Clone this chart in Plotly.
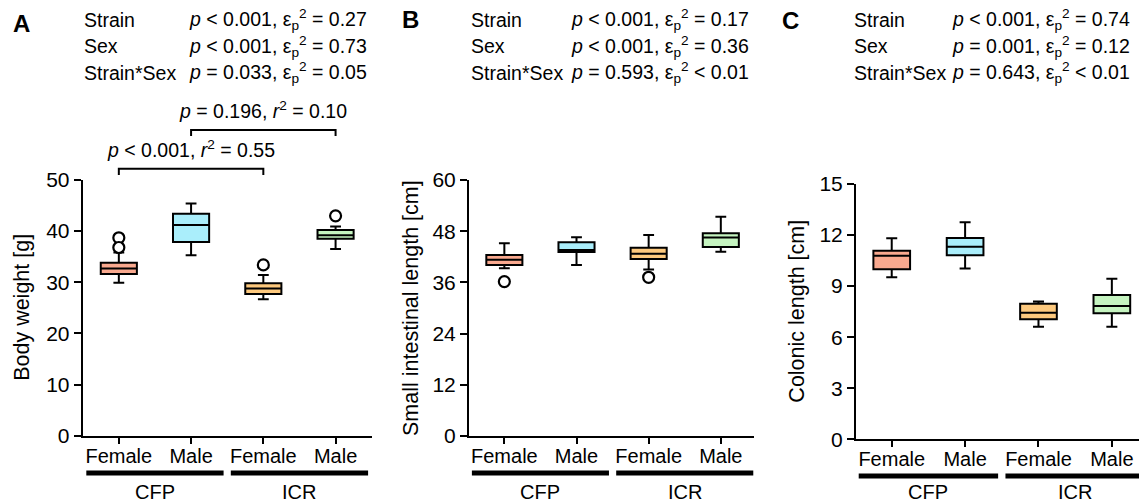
import plotly.graph_objects as go

W, H = 1139, 503
FONT = "Liberation Sans, Arial, Helvetica, sans-serif"

# ---------------- data ----------------
sexes = ["Female", "Male", "Female", "Male"]
strains = ["CFP", "ICR"]
box_colors = ["#F9A98F", "#AAEEFB", "#FDC97E", "#C5F4C0"]

# Panel A: body weight [g]
bw_q1 = [31.6, 37.9, 27.7, 38.5]
bw_med = [32.7, 41.2, 28.8, 39.2]
bw_q3 = [33.8, 43.4, 29.8, 40.2]
bw_lo = [29.9, 35.3, 26.7, 36.5]
bw_hi = [35.8, 45.4, 31.4, 40.9]
bw_out_x = [0, 0, 2, 3]
bw_out_y = [38.7, 36.8, 33.4, 43.0]

# Panel B: small intestinal length [cm]
si_q1 = [40.1, 43.1, 41.5, 44.3]
si_med = [41.3, 43.6, 42.7, 46.5]
si_q3 = [42.4, 45.4, 44.1, 47.5]
si_lo = [39.3, 40.1, 39.0, 43.2]
si_hi = [45.2, 46.6, 47.1, 51.4]
si_out_x = [0, 2]
si_out_y = [36.2, 37.2]

# Panel C: colonic length [cm]
cl_q1 = [9.99, 10.81, 7.05, 7.40]
cl_med = [10.79, 11.32, 7.44, 7.83]
cl_q3 = [11.08, 11.83, 7.97, 8.48]
cl_lo = [9.52, 10.03, 6.62, 6.62]
cl_hi = [11.81, 12.75, 8.10, 9.44]
cl_out_x = []
cl_out_y = []

# ANOVA results
effects = ["Strain", "Sex", "Strain*Sex"]
stats_A = ["<i>p</i> &lt; 0.001, ε<sub>p</sub><sup>2</sup> = 0.27",
           "<i>p</i> &lt; 0.001, ε<sub>p</sub><sup>2</sup> = 0.73",
           "<i>p</i> = 0.033, ε<sub>p</sub><sup>2</sup> = 0.05"]
stats_B = ["<i>p</i> &lt; 0.001, ε<sub>p</sub><sup>2</sup> = 0.17",
           "<i>p</i> &lt; 0.001, ε<sub>p</sub><sup>2</sup> = 0.36",
           "<i>p</i> = 0.593, ε<sub>p</sub><sup>2</sup> &lt; 0.01"]
stats_C = ["<i>p</i> &lt; 0.001, ε<sub>p</sub><sup>2</sup> = 0.74",
           "<i>p</i> = 0.001, ε<sub>p</sub><sup>2</sup> = 0.12",
           "<i>p</i> = 0.643, ε<sub>p</sub><sup>2</sup> &lt; 0.01"]

# Pairwise comparisons in panel A
bracket_pairs = [(0, 2), (1, 3)]
bracket_heights = [52.2, 59.8]
bracket_texts = ["<i>p</i> &lt; 0.001, <i>r</i><sup>2</sup> = 0.55",
                 "<i>p</i> = 0.196, <i>r</i><sup>2</sup> = 0.10"]

# ---------------- layout helpers ----------------
def px_x(px):
    return px / W

def px_y(py):
    return 1 - py / H

panels = [
    dict(letter="A", ax="", box=(82.7, 371.7, 180, 435.7), xr=(-0.5, 3.5), yr=(0, 50), dtick=10,
         title="Body weight [g]", title_x=22,
         q1=bw_q1, med=bw_med, q3=bw_q3, lo=bw_lo, hi=bw_hi, ox=bw_out_x, oy=bw_out_y,
         stats=stats_A, letter_xy=(21, 24), col1=81.7, col2=186.7, bar_y=473, grp_y=491.5),
    dict(letter="B", ax="2", box=(469, 754, 180, 436), xr=(-0.49, 3.46), yr=(0, 60), dtick=12,
         title="Small intestinal length [cm]", title_x=411,
         q1=si_q1, med=si_med, q3=si_q3, lo=si_lo, hi=si_hi, ox=si_out_x, oy=si_out_y,
         stats=stats_B, letter_xy=(410, 20), col1=469, col2=569, bar_y=473, grp_y=491.5),
    dict(letter="C", ax="3", box=(856, 1139, 184, 439.3), xr=(-0.487, 3.37), yr=(0, 15), dtick=3,
         title="Colonic length [cm]", title_x=797,
         q1=cl_q1, med=cl_med, q3=cl_q3, lo=cl_lo, hi=cl_hi, ox=cl_out_x, oy=cl_out_y,
         stats=stats_C, letter_xy=(790, 21), col1=851.7, col2=950, bar_y=476, grp_y=491.5),
]

row_y = [20, 46, 73]

fig = go.Figure()
annotations = []
shapes = []
layout_axes = {}

for p in panels:
    xa = "x" + p["ax"]
    ya = "y" + p["ax"]
    x0, x1, y0, y1 = p["box"]
    ydom = [px_y(y1), px_y(y0)]
    layout_axes["xaxis" + p["ax"]] = dict(
        domain=[px_x(x0), px_x(x1)], range=list(p["xr"]), anchor=ya, automargin=False,
        tickmode="array", tickvals=list(range(len(sexes))), ticktext=sexes,
        ticks="outside", ticklen=6, tickwidth=2, tickcolor="black", ticklabelstandoff=-5,
        showline=True, linewidth=2, linecolor="black", showgrid=False, zeroline=False,
        tickfont=dict(family=FONT, size=20, color="black"), fixedrange=True)
    layout_axes["yaxis" + p["ax"]] = dict(
        domain=ydom, range=list(p["yr"]), anchor=xa, dtick=p["dtick"], tick0=0, automargin=False,
        ticks="outside", ticklen=7, tickwidth=2, tickcolor="black",
        showline=True, linewidth=2, linecolor="black", showgrid=False, zeroline=False,
        tickfont=dict(family=FONT, size=21, color="black"), fixedrange=True)

    for i in range(len(sexes)):
        fig.add_trace(go.Box(
            x=[i], q1=[p["q1"][i]], median=[p["med"][i]], q3=[p["q3"][i]],
            lowerfence=[p["lo"][i]], upperfence=[p["hi"][i]],
            fillcolor=box_colors[i], line=dict(color="black", width=2),
            width=0.5, whiskerwidth=0.3, boxpoints=False,
            xaxis=xa, yaxis=ya, showlegend=False, hoverinfo="skip"))
    if p["ox"]:
        fig.add_trace(go.Scatter(
            x=p["ox"], y=p["oy"], mode="markers", cliponaxis=False,
            marker=dict(symbol="circle", size=11, color="white",
                        line=dict(color="black", width=2.2)),
            xaxis=xa, yaxis=ya, showlegend=False, hoverinfo="skip"))

    annotations.append(dict(text=p["title"], textangle=-90, xref="paper", yref="paper",
                            x=px_x(p["title_x"]), y=(ydom[0] + ydom[1]) / 2,
                            xanchor="center", yanchor="middle", showarrow=False,
                            font=dict(family=FONT, size=21.5, color="black")))
    annotations.append(dict(text="<b>%s</b>" % p["letter"], xref="paper", yref="paper",
                            x=px_x(p["letter_xy"][0]), y=px_y(p["letter_xy"][1]),
                            xanchor="center", yanchor="middle", showarrow=False,
                            font=dict(family=FONT, size=24, color="black")))
    for k, eff in enumerate(effects):
        annotations.append(dict(text=eff, xref="paper", yref="paper",
                                x=px_x(p["col1"]), y=px_y(row_y[k]),
                                xanchor="left", yanchor="middle", showarrow=False,
                                font=dict(family=FONT, size=19.5, color="black")))
        annotations.append(dict(text=p["stats"][k], xref="paper", yref="paper",
                                x=px_x(p["col2"]), y=px_y(row_y[k]),
                                xanchor="left", yanchor="middle", showarrow=False,
                                font=dict(family=FONT, size=19.5, color="black")))
    for s, name in enumerate(strains):
        c = 2 * s + 0.5
        shapes.append(dict(type="line", xref=xa, yref="paper",
                           x0=c - 0.95, x1=c + 0.95,
                           y0=px_y(p["bar_y"]), y1=px_y(p["bar_y"]),
                           line=dict(color="black", width=5)))
        annotations.append(dict(text=name, xref=xa, yref="paper", x=c, y=px_y(p["grp_y"]),
                                xanchor="center", yanchor="middle", showarrow=False,
                                font=dict(family=FONT, size=20, color="black")))

pA = panels[0]
yd0, yd1 = px_y(pA["box"][3]), px_y(pA["box"][2])
def a_to_paper(v):
    return yd0 + (v - pA["yr"][0]) / (pA["yr"][1] - pA["yr"][0]) * (yd1 - yd0)

for (a, b), h, txt in zip(bracket_pairs, bracket_heights, bracket_texts):
    top = a_to_paper(h)
    bot = a_to_paper(h - 1.2)
    shapes.append(dict(type="path", xref="x", yref="paper",
                       path="M %g,%g L %g,%g L %g,%g L %g,%g" % (a, bot, a, top, b, top, b, bot),
                       line=dict(color="black", width=2)))
    annotations.append(dict(text=txt, xref="x", yref="paper", x=(a + b) / 2,
                            y=a_to_paper(h + 3.9), xanchor="center", yanchor="middle",
                            showarrow=False, font=dict(family=FONT, size=19.5, color="black")))

fig.update_layout(
    width=W, height=H, margin=dict(l=0, r=0, t=0, b=0, autoexpand=False),
    paper_bgcolor="white", plot_bgcolor="white",
    font=dict(family=FONT, color="black"),
    boxmode="overlay", showlegend=False,
    annotations=annotations, shapes=shapes, **layout_axes)

fig.write_html("out.html", config={"displayModeBar": False},
               post_script="document.body.style.margin='0';")
